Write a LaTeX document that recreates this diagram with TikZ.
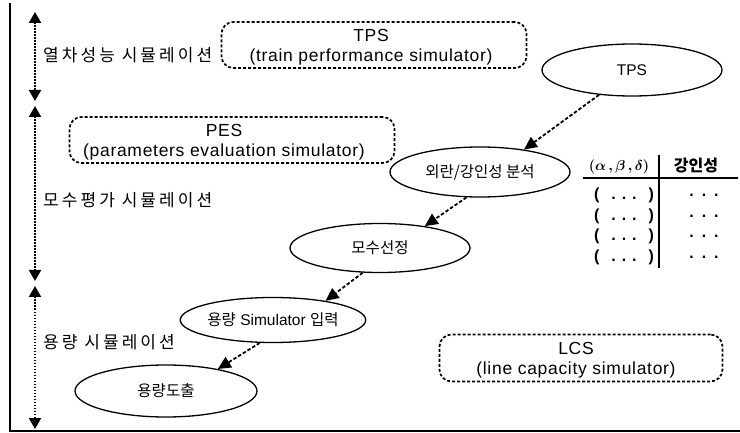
\documentclass[tikz,border=0pt]{standalone}
\usepackage{bm}
\usepackage{fontspec}
\setmainfont{Liberation Sans}
\newfontfamily\krfont{Noto Sans CJK KR}
\newfontfamily\krwide[LetterSpace=18]{Noto Sans CJK KR}
\newfontfamily\boxfont[LetterSpace=4]{Liberation Sans}
\usetikzlibrary{positioning,arrows.meta,shapes.geometric}

\begin{document}
\begin{tikzpicture}[x=1pt,y=-1pt,
  stage/.style={ellipse,draw,line width=1.3pt,inner sep=0pt,font=\fontsize{15.5}{17}\selectfont},
  simbox/.style={draw,line width=1.7pt,dash pattern=on 3pt off 2pt,rounded corners=12pt},
  simtext/.style={align=center,inner sep=0pt,font=\boxfont\fontsize{17.5}{20}\selectfont},
  flow/.style={line width=1.8pt,dash pattern=on 3.5pt off 2pt,-{Triangle[width=12pt,length=13pt]}},
  span/.style={line width=2pt,dash pattern=on 1.6pt off 1.4pt,
    {Triangle[width=12pt,length=11pt]}-{Triangle[width=12pt,length=11pt]}},
  side/.style={anchor=west,inner sep=0pt,font=\krwide\fontsize{17}{19}\selectfont},
  cell/.style={font=\bfseries\fontsize{16}{18}\selectfont}]
  \useasboundingbox (0,0) rectangle (740,433);

  % frame on the left and bottom
  \draw[line width=1.2pt] (10,3) -- (10,431) -- (740,431);

  % stage extents
  \coordinate (s1a) at (35,12);  \coordinate (s1b) at (35,101);
  \coordinate (s2a) at (35,106); \coordinate (s2b) at (35,281);
  \coordinate (s3a) at (35,286); \coordinate (s3b) at (35,429);
  \draw[span] (s1a) -- (s1b);
  \draw[span] (s2a) -- (s2b);
  \draw[span] (s3a) -- (s3b);

  \node[side] (lbltrain) at (43,55) {열차성능 시뮬레이션};
  \node[side] (lblparam) at (43,200) {모수평가 시뮬레이션};
  \node[side] (lblcap) at (43,342) {용량 시뮬레이션};

  % simulators
  \node[simbox,minimum width=305pt,minimum height=46pt] (tpsbox) at (374,45) {};
  \node[simtext] (tpstext) at (371,47) {TPS\\(train performance simulator)};
  \node[simbox,minimum width=325pt,minimum height=46pt] (pesbox) at (232,140) {};
  \node[simtext] (pestext) at (224,142) {PES\\(parameters evaluation simulator)};
  \node[simbox,minimum width=283pt,minimum height=47pt] (lcsbox) at (581,358) {};
  \node[simtext] (lcstext) at (576,360) {LCS\\(line capacity simulator)};

  % procedure
  \node[stage,minimum width=180pt,minimum height=52pt] (tps) at (632,70) {TPS};
  \node[stage,minimum width=180pt,minimum height=50pt] (dist) at (480,172) {\krfont 외란/강인성 분석};
  \node[stage,minimum width=180pt,minimum height=49pt] (param) at (380,248) {\krfont 모수선정};
  \node[stage,minimum width=170pt,minimum height=45pt] (siminput) at (273,320)
    {{\krfont 용량} Simulator {\krfont 입력}};
  \node[stage,minimum width=182pt,minimum height=52pt] (capacity) at (166,391) {\krfont 용량도출};

  \draw[flow] (tps.217) -- (dist.27);
  \draw[flow] (dist.242) -- (param.26);
  \draw[flow] (param.235) -- (siminput.20);
  \draw[flow] (siminput.240) -- (capacity.23);

  % robustness table
  \node[cell,font=\fontsize{15}{17}\selectfont] (hdtuple) at (619,167)
    {$\bm{(\alpha\,,\beta\,,\delta)}$};
  \node[cell] (hdrob) at (696,166) {\krfont\bfseries 강인성};
  \draw[line width=1.5pt] (583,178) -- (738,178);
  \draw[line width=1.5pt] (659,155) -- (659,268);
  \node[cell] (tup1) at (624,195) {(\hspace{12pt}.\hspace{6pt}.\hspace{6pt}.\hspace{12pt})};
  \node[cell] (tup2) at (624,216) {(\hspace{12pt}.\hspace{6pt}.\hspace{6pt}.\hspace{12pt})};
  \node[cell] (tup3) at (624,236) {(\hspace{12pt}.\hspace{6pt}.\hspace{6pt}.\hspace{12pt})};
  \node[cell] (tup4) at (624,257) {(\hspace{12pt}.\hspace{6pt}.\hspace{6pt}.\hspace{12pt})};
  \node[cell] (rob1) at (704,195) {.\hspace{8pt}.\hspace{8pt}.};
  \node[cell] (rob2) at (704,216) {.\hspace{8pt}.\hspace{8pt}.};
  \node[cell] (rob3) at (704,236) {.\hspace{8pt}.\hspace{8pt}.};
  \node[cell] (rob4) at (704,257) {.\hspace{8pt}.\hspace{8pt}.};
\end{tikzpicture}
\end{document}
